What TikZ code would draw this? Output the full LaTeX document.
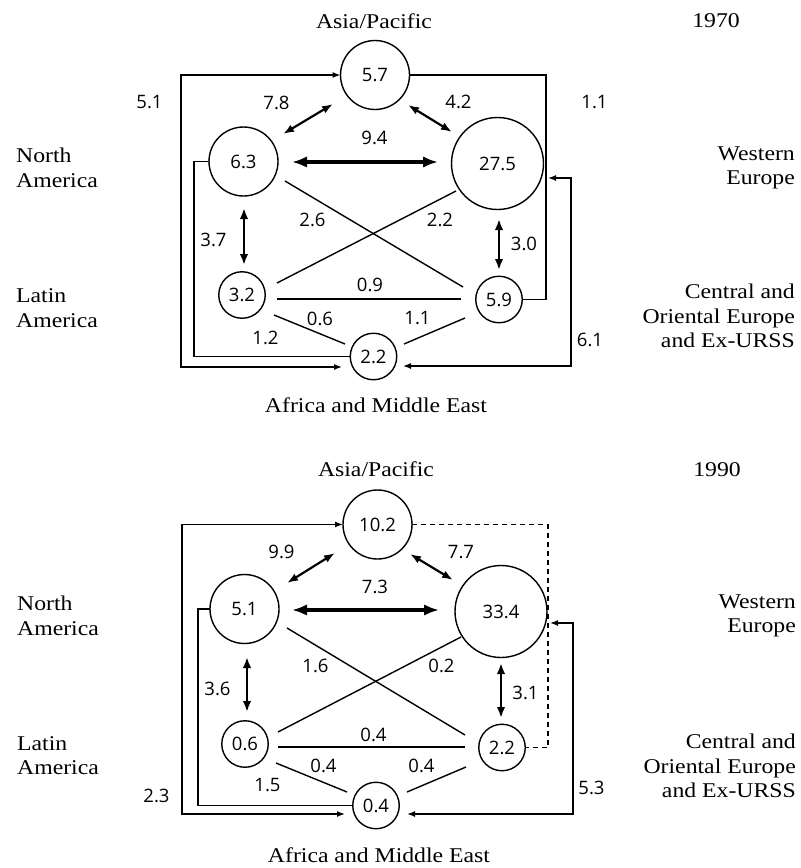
\documentclass[tikz,border=0pt]{standalone}
\usepackage{fontspec}
\setmainfont{Liberation Serif}[FakeStretch=1.13]
\newfontfamily\numfont{Open Sans}
\usetikzlibrary{arrows.meta,calc}

\begin{document}
\begin{tikzpicture}[x=1pt,y=-1pt,
  region/.style={circle,draw,line width=1.4pt,inner sep=0pt,outer sep=0pt,
    font=\numfont\fontsize{18.5}{20}\selectfont},
  ringS/.style={region,minimum size=46.5pt},
  ringM/.style={region,minimum size=69pt},
  ringL/.style={region,minimum size=92pt},
  figlabel/.style={inner sep=0pt,font=\numfont\fontsize{18.5}{20}\selectfont},
  regionlabel/.style={inner sep=0pt,font=\fontsize{21}{25}\selectfont},
  plainline/.style={line width=1.4pt},
  dashline/.style={line width=1.4pt,dash pattern=on 5pt off 4pt},
  flowline/.style={line width=1.4pt,{Latex[length=8pt,width=6pt]}-{Latex[length=8pt,width=6pt]}},
  pairarrow/.style={line width=2.2pt,{Latex[length=11pt,width=8pt]}-{Latex[length=11pt,width=8pt]}},
  vpairarrow/.style={line width=2.6pt,{Latex[length=11pt,width=8.5pt]}-{Latex[length=11pt,width=8.5pt]}},
  heavyarrow/.style={line width=3.8pt,{Latex[length=15pt,width=11.5pt]}-{Latex[length=15pt,width=11.5pt]}},
]
\fill[white] (0,0) rectangle (801,868);
\useasboundingbox (0,0) rectangle (801,868);

% ================= 1970 =================
\node[regionlabel,anchor=base] (t1) at (374,28) {Asia/Pacific};
\node[regionlabel,anchor=base] (y1) at (716,27) {1970};
\node[regionlabel,anchor=base west] (na1a) at (16,162) {North};
\node[regionlabel,anchor=base west] (na1b) at (16,187) {America};
\node[regionlabel,anchor=base east] (we1a) at (795,160) {Western};
\node[regionlabel,anchor=base east] (we1b) at (795,184) {Europe};
\node[regionlabel,anchor=base west] (la1a) at (16,302) {Latin};
\node[regionlabel,anchor=base west] (la1b) at (16,327) {America};
\node[regionlabel,anchor=base east] (ce1a) at (795,298) {Central and};
\node[regionlabel,anchor=base east] (ce1b) at (795,323) {Oriental Europe};
\node[regionlabel,anchor=base east] (ce1c) at (795,347) {and Ex-URSS};
\node[regionlabel,anchor=base] (af1) at (376,412) {Africa and Middle East};

\node[ringM] (A1) at (375,75) {5.7};
\node[ringM] (N1) at (243.5,161.5) {6.3};
\node[ringL] (W1) at (497.5,163.5) {27.5};
\node[ringS] (L1) at (242,295) {3.2};
\node[ringS] (C1) at (499,299.5) {5.9};
\node[ringS] (F1) at (373.5,356.5) {2.2};

% direct exchanges
\draw[pairarrow] ($(N1)+(39.5,-27.5)$) -- ($(A1)+(-42,29)$);
\draw[pairarrow] ($(A1)+(33,30)$) -- ($(W1)+(-45.5,-31.5)$);
\draw[heavyarrow] ($(N1)+(48.5,0.5)$) -- ($(W1)+(-59.5,-1.5)$);
\draw[vpairarrow] ($(N1)+(0.5,46.5)$) -- ($(L1)+(2,-30)$);
\draw[vpairarrow] ($(W1)+(1.5,55.5)$) -- ($(C1)+(0,-29.5)$);
\draw[plainline] ($(N1)+(41.5,19.5)$) -- ($(C1)+(-36,-12.5)$);
\draw[plainline] ($(W1)+(-41.5,27.5)$) -- ($(L1)+(35,-12)$);
\draw[plainline] ($(L1)+(35,4)$) -- ($(C1)+(-38,-0.5)$);
\draw[plainline] ($(L1)+(32,20)$) -- ($(F1)+(-28.5,-12.5)$);
\draw[plainline] ($(C1)+(-34,18.5)$) -- ($(F1)+(30.5,-12.5)$);

% routed links
\coordinate (bl1) at (181,367);
\coordinate (il1) at (194,0);
\coordinate (ir1) at (546,0);
\coordinate (or1) at (571,0);
\coordinate (f1out) at ($(F1)+(-31.5,10.5)$);
\coordinate (w1in) at ($(W1)+(50.5,14.5)$);
\coordinate (f1in) at ($(F1)+(29.5,9.5)$);
\draw[flowline] (A1.west) -- (A1.west -| bl1) -- (bl1) -- (f1out);
\draw[plainline] (N1.west) -- (N1.west -| il1) -- (il1 |- F1.west) -- (F1.west);
\draw[plainline] (A1.east) -- (A1.east -| ir1) -- (ir1 |- C1.east) -- (C1.east);
\draw[flowline] (w1in) -- (w1in -| or1) -- (or1 |- f1in) -- (f1in);

% values
\node[figlabel] (v1a) at (149.5,102.5) {5.1};
\node[figlabel] (v1b) at (276.5,102.5) {7.8};
\node[figlabel] (v1c) at (374.5,138) {9.4};
\node[figlabel] (v1d) at (458.5,102) {4.2};
\node[figlabel] (v1e) at (594.5,102) {1.1};
\node[figlabel] (v1f) at (312.5,219.5) {2.6};
\node[figlabel] (v1g) at (440,219.5) {2.2};
\node[figlabel] (v1h) at (213.5,240) {3.7};
\node[figlabel] (v1i) at (524,243.5) {3.0};
\node[figlabel] (v1j) at (370,285) {0.9};
\node[figlabel] (v1k) at (320,318.5) {0.6};
\node[figlabel] (v1l) at (417.5,318.5) {1.1};
\node[figlabel] (v1m) at (265.5,337.5) {1.2};
\node[figlabel] (v1n) at (590,340) {6.1};

% ================= 1990 =================
\node[regionlabel,anchor=base] (t2) at (376,476) {Asia/Pacific};
\node[regionlabel,anchor=base] (y2) at (717,476) {1990};
\node[regionlabel,anchor=base west] (na2a) at (17,610) {North};
\node[regionlabel,anchor=base west] (na2b) at (17,635) {America};
\node[regionlabel,anchor=base east] (we2a) at (796,608) {Western};
\node[regionlabel,anchor=base east] (we2b) at (796,632) {Europe};
\node[regionlabel,anchor=base west] (la2a) at (17,750) {Latin};
\node[regionlabel,anchor=base west] (la2b) at (17,774) {America};
\node[regionlabel,anchor=base east] (ce2a) at (796,748) {Central and};
\node[regionlabel,anchor=base east] (ce2b) at (796,773) {Oriental Europe};
\node[regionlabel,anchor=base east] (ce2c) at (796,797) {and Ex-URSS};
\node[regionlabel,anchor=base] (af2) at (379,862) {Africa and Middle East};

\node[ringM] (A2) at (377.5,524.5) {10.2};
\node[ringM] (N2) at (244.5,609) {5.1};
\node[ringL] (W2) at (501,611.5) {33.4};
\node[ringS] (L2) at (245,744) {0.6};
\node[ringS] (C2) at (502,747.5) {2.2};
\node[ringS] (F2) at (376,805.5) {0.4};

% direct exchanges
\draw[pairarrow] ($(N2)+(42.5,-26)$) -- ($(A2)+(-42.5,28.5)$);
\draw[pairarrow] ($(A2)+(32.5,29.5)$) -- ($(W2)+(-48,-31.5)$);
\draw[heavyarrow] ($(N2)+(47.5,1)$) -- ($(W2)+(-62,-1.5)$);
\draw[vpairarrow] ($(N2)+(2.5,48)$) -- ($(L2)+(2,-32)$);
\draw[vpairarrow] ($(W2)+(0,51.5)$) -- ($(C2)+(-1,-29.5)$);
\draw[plainline] ($(N2)+(42.5,19)$) -- ($(C2)+(-37,-12.5)$);
\draw[plainline] ($(W2)+(-40,25.5)$) -- ($(L2)+(33,-12)$);
\draw[plainline] ($(L2)+(33,3)$) -- ($(C2)+(-37,-0.5)$);
\draw[plainline] ($(L2)+(31,19)$) -- ($(F2)+(-29,-13.5)$);
\draw[plainline] ($(C2)+(-36,19.5)$) -- ($(F2)+(31,-13.5)$);

% routed links
\coordinate (bl2) at (182,814);
\coordinate (il2) at (198,0);
\coordinate (ir2) at (548,0);
\coordinate (or2) at (573,0);
\coordinate (f2out) at ($(F2)+(-31,8.5)$);
\coordinate (w2in) at ($(W2)+(49,11.5)$);
\coordinate (f2in) at ($(F2)+(31,8.5)$);
\draw[flowline] (A2.west) -- (A2.west -| bl2) -- (bl2) -- (f2out);
\draw[plainline] (N2.west) -- (N2.west -| il2) -- (il2 |- F2.west) -- (F2.west);
\draw[dashline] (A2.east) -- (A2.east -| ir2) -- (ir2 |- C2.east) -- (C2.east);
\draw[flowline] (w2in) -- (w2in -| or2) -- (or2 |- f2in) -- (f2in);

% values
\node[figlabel] (v2a) at (156.5,795.5) {2.3};
\node[figlabel] (v2b) at (281.5,552) {9.9};
\node[figlabel] (v2c) at (375,586.5) {7.3};
\node[figlabel] (v2d) at (461,552) {7.7};
\node[figlabel] (v2f) at (315.5,666) {1.6};
\node[figlabel] (v2g) at (441.5,666) {0.2};
\node[figlabel] (v2h) at (217.5,688.5) {3.6};
\node[figlabel] (v2i) at (525.5,692.5) {3.1};
\node[figlabel] (v2j) at (373.5,734.5) {0.4};
\node[figlabel] (v2k) at (323.5,765.5) {0.4};
\node[figlabel] (v2l) at (421.5,765.5) {0.4};
\node[figlabel] (v2m) at (267.5,785.5) {1.5};
\node[figlabel] (v2n) at (591.5,787.5) {5.3};
\end{tikzpicture}
\end{document}
